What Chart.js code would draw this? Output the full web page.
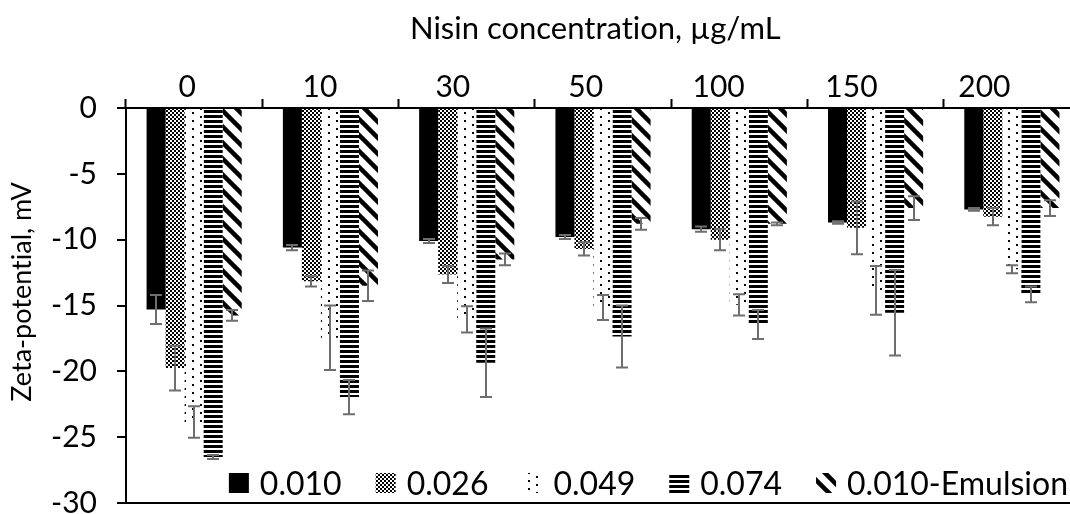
<!DOCTYPE html>
<html>
<head>
<meta charset="utf-8">
<script src="https://cdn.jsdelivr.net/npm/chart.js@4.4.1/dist/chart.umd.min.js"></script>
<style>
  html, body { margin: 0; padding: 0; background: #fff; overflow: hidden; }
  #wrap { width: 1070px; height: 514px; overflow: hidden; position: relative; }
  canvas { display: block; font-variant-ligatures: none; }
</style>
</head>
<body>
<div id="wrap"><canvas id="chart" width="1100" height="514" style="width:1100px;height:514px"></canvas></div>
<script>
// Nisin concentration groups (µg/mL)
const categories = ['0', '10', '30', '50', '100', '150', '200'];

// Series labels
const seriesLabels = ['0.010', '0.026', '0.049', '0.074', '0.010-Emulsion'];

// Zeta-potential means (mV) and error half-widths
const zeta010 = [-15.3, -10.6, -10.1, -9.8, -9.2, -8.7, -7.7];
const err010 = [1.1, 0.2, 0.15, 0.15, 0.2, 0.1, 0.1];

const zeta026 = [-19.75, -13.15, -12.65, -10.7, -10.0, -9.1, -8.25];
const err026 = [1.7, 0.4, 0.65, 0.5, 0.8, 2.0, 0.65];

const zeta049 = [-23.85, -17.45, -16.05, -15.15, -14.95, -13.85, -12.25];
const err049 = [1.2, 2.45, 1.0, 0.95, 0.8, 1.85, 0.3];

const zeta074 = [-26.5, -21.95, -19.35, -17.35, -16.45, -15.55, -14.15];
const err074 = [0.15, 1.3, 2.6, 2.35, 1.1, 3.25, 0.6];

const zetaEmul = [-15.75, -13.5, -11.5, -8.8, -8.8, -7.6, -7.6];
const errEmul = [0.4, 1.15, 0.45, 0.45, 0.1, 0.9, 0.6];

// y-axis range
const yMin = -30, yMax = 0, yStep = 5;

const FONT = 'Lato';
Chart.defaults.font.family = FONT;
Chart.defaults.color = '#000';

// ---- fill patterns -------------------------------------------------------
function makePattern(w, h, draw) {
  const c = document.createElement('canvas');
  c.width = w; c.height = h;
  const g = c.getContext('2d');
  g.fillStyle = '#fff';
  g.fillRect(0, 0, w, h);
  g.fillStyle = '#000';
  g.strokeStyle = '#000';
  draw(g, w, h);
  return document.getElementById('chart').getContext('2d').createPattern(c, 'repeat');
}

const solidBlack = '#000';

const checker = makePattern(4, 4, g => {
  g.fillRect(0, 0, 2, 2);
  g.fillRect(2, 2, 2, 2);
});

const dots = makePattern(16, 8, g => {
  g.fillRect(0, 0, 2, 2);
  g.fillRect(8, 4, 2, 2);
});

const hStripes = makePattern(4, 5, g => {
  g.fillRect(0, 0, 4, 3);
});

const diagonal = makePattern(16, 16, g => {
  g.lineWidth = 4.5;
  g.lineCap = 'square';
  for (const c of [-16, 0, 16]) {
    g.beginPath();
    g.moveTo(-4, -4 + c);
    g.lineTo(20, 20 + c);
    g.stroke();
  }
});

const fills = [solidBlack, checker, dots, hStripes, diagonal];
const seriesValues = [zeta010, zeta026, zeta049, zeta074, zetaEmul];
const seriesErrors = [err010, err026, err049, err074, errEmul];

// ---- plugins --------------------------------------------------------------
const plainTextPlugin = {
  id: 'plainText',
  beforeDraw(chart) {
    chart.ctx.textRendering = 'optimizeSpeed';
  }
};

const errorBarPlugin = {
  id: 'errorBars',
  afterDatasetsDraw(chart) {
    const ctx = chart.ctx;
    const yScale = chart.scales.y;
    ctx.save();
    ctx.strokeStyle = '#6e6e6e';
    ctx.lineWidth = 2;
    chart.data.datasets.forEach((ds, i) => {
      const meta = chart.getDatasetMeta(i);
      meta.data.forEach((bar, j) => {
        const v = ds.data[j];
        const e = ds.errors[j];
        const x = Math.round(bar.x);
        const yTop = yScale.getPixelForValue(v + e);
        const yBot = yScale.getPixelForValue(v - e);
        const cap = 6;
        ctx.beginPath();
        ctx.moveTo(x, yTop); ctx.lineTo(x, yBot);
        ctx.moveTo(x - cap, yTop); ctx.lineTo(x + cap, yTop);
        ctx.moveTo(x - cap, yBot); ctx.lineTo(x + cap, yBot);
        ctx.stroke();
      });
    });
    ctx.restore();
  }
};

const insideLegendPlugin = {
  id: 'insideLegend',
  afterDraw(chart) {
    const ctx = chart.ctx;
    const area = chart.chartArea;
    const box = 20, gap = 11, spacing = 34;
    ctx.save();
    ctx.font = '32px ' + FONT;
    ctx.textBaseline = 'middle';
    ctx.textAlign = 'left';
    const items = chart.data.datasets.map(ds => ({
      label: ds.label, fill: ds.backgroundColor, w: ctx.measureText(ds.label).width
    }));
    const total = items.reduce((s, it) => s + box + gap + it.w, 0) + spacing * (items.length - 1);
    let x = area.right - 12 - total;
    const cy = area.bottom - 20;
    items.forEach(it => {
      ctx.fillStyle = '#fff';
      ctx.fillRect(x, cy - box / 2, box, box);
      ctx.fillStyle = it.fill;
      ctx.fillRect(x, cy - box / 2, box, box);
      ctx.fillStyle = '#000';
      ctx.fillText(it.label, x + box + gap, cy + 2);
      x += box + gap + it.w + spacing;
    });
    ctx.restore();
  }
};

// ---- chart ----------------------------------------------------------------
const datasets = seriesLabels.map((label, i) => ({
  label,
  data: seriesValues[i],
  errors: seriesErrors[i],
  backgroundColor: fills[i],
  borderWidth: 0,
  categoryPercentage: 0.698,
  barPercentage: 1.0
}));

new Chart(document.getElementById('chart'), {
  type: 'bar',
  data: { labels: categories, datasets },
  options: {
    responsive: false,
    animation: false,
    devicePixelRatio: 1,
    layout: { padding: { left: 0, right: 20, top: 0, bottom: 11 } },
    plugins: {
      legend: { display: false },
      tooltip: { enabled: false }
    },
    scales: {
      // category axis carrying the bars, with boundary tick marks
      x: {
        position: 'top',
        weight: 0,
        offset: true,
        grid: {
          offset: true,
          drawOnChartArea: false,
          drawTicks: true,
          tickLength: 9,
          tickColor: '#000',
          tickWidth: 2
        },
        border: { display: true, color: '#000', width: 2 },
        ticks: { display: false },
        afterFit(scale) {
          scale.height = 9;
          scale.paddingLeft = 0;
          scale.paddingRight = 0;
        }
      },
      // concentration labels along the top edge
      xLabels: {
        type: 'linear',
        position: 'top',
        weight: 1,
        offset: false,
        min: -0.46,
        max: 6.72,
        grid: { display: false, offset: false },
        border: { display: false },
        ticks: {
          stepSize: 1,
          includeBounds: false,
          font: { size: 30, family: FONT },
          color: '#000',
          padding: -14,
          maxRotation: 0,
          autoSkip: false,
          callback: v => (Number.isInteger(v) && categories[v] !== undefined) ? categories[v] : ''
        },
        title: {
          display: true,
          text: 'Nisin concentration, µg/mL\u2002',
          font: { size: 31, family: FONT },
          color: '#000',
          padding: { top: 10, bottom: 0 }
        },
        afterFit(scale) {
          scale.height = 99;
          scale.paddingLeft = 0;
          scale.paddingRight = 0;
        }
      },
      y: {
        min: yMin,
        max: yMax,
        ticks: {
          stepSize: yStep,
          font: { size: 30, family: FONT },
          color: '#000',
          padding: 20
        },
        grid: {
          color: c => (c.tick && c.tick.value === yMin) ? '#000' : 'rgba(0,0,0,0)',
          lineWidth: 2,
          drawTicks: true,
          tickLength: 9,
          tickColor: '#000',
          tickWidth: 2
        },
        border: { display: true, color: '#000', width: 2 },
        title: {
          display: true,
          text: '\u2002\u2002Zeta-potential, mV',
          font: { size: 27, family: FONT },
          color: '#000',
          padding: { top: 6, bottom: 0 }
        },
        afterFit(scale) {
          scale.width = 126;
          scale.paddingTop = 0;
          scale.paddingBottom = 0;
        }
      }
    }
  },
  plugins: [plainTextPlugin, errorBarPlugin, insideLegendPlugin]
});
</script>
</body>
</html>
